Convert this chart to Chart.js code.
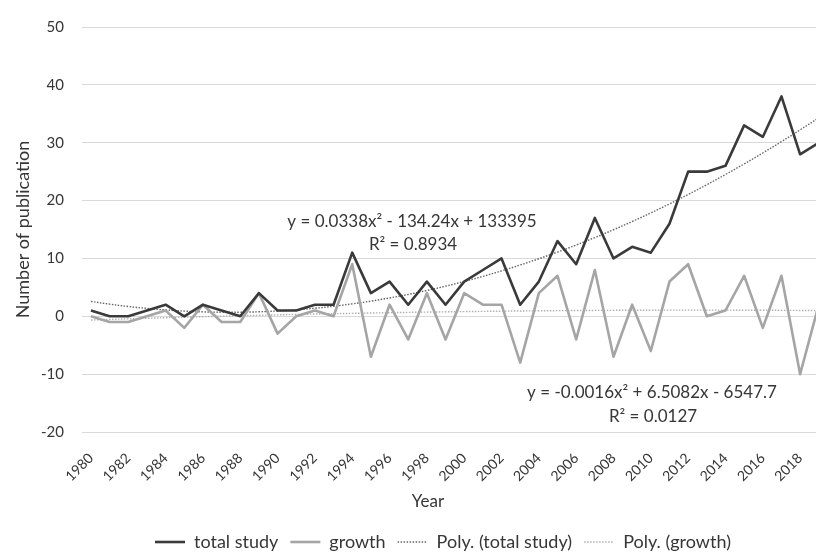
<!DOCTYPE html>
<html>
<head>
<meta charset="utf-8">
<title>Number of publication by year</title>
<script src="https://cdn.jsdelivr.net/npm/chart.js@4/dist/chart.umd.min.js"></script>
<style>
  html, body { margin: 0; padding: 0; background: #ffffff; overflow: hidden; }
  #wrap { width: 822px; height: 559px; position: relative; }
</style>
</head>
<body>
<div id="wrap"><canvas id="chart"></canvas></div>
<script>
// Publication years
const years = [
  1980, 1981, 1982, 1983, 1984, 1985, 1986, 1987, 1988, 1989,
  1990, 1991, 1992, 1993, 1994, 1995, 1996, 1997, 1998, 1999,
  2000, 2001, 2002, 2003, 2004, 2005, 2006, 2007, 2008, 2009,
  2010, 2011, 2012, 2013, 2014, 2015, 2016, 2017, 2018, 2019
];

// Publications per year
const totalStudy = [
  1, 0, 0, 1, 2, 0, 2, 1, 0, 4,
  1, 1, 2, 2, 11, 4, 6, 2, 6, 2,
  6, 8, 10, 2, 6, 13, 9, 17, 10, 12,
  11, 16, 25, 25, 26, 33, 31, 38, 28, 30
];

// Year-on-year change
const growth = [
  0, -1, -1, 0, 1, -2, 2, -1, -1, 4,
  -3, 0, 1, 0, 9, -7, 2, -4, 4, -4,
  4, 2, 2, -8, 4, 7, -4, 8, -7, 2,
  -6, 6, 9, 0, 1, 7, -2, 7, -10, 2
];

// Labelled years on the horizontal axis
const xTickYears = [
  1980, 1982, 1984, 1986, 1988, 1990, 1992, 1994, 1996, 1998,
  2000, 2002, 2004, 2006, 2008, 2010, 2012, 2014, 2016, 2018
];

// Trendline equations as printed on the chart
const trendTotalLines = ['y = 0.0338x² - 134.24x + 133395', 'R² = 0.8934'];
const trendGrowthLines = ['y = -0.0016x² + 6.5082x - 6547.7', 'R² = 0.0127'];

const seriesNames = ['total study', 'growth', 'Poly. (total study)', 'Poly. (growth)'];

// Least-squares second order polynomial fit, evaluated at each year
function quadraticFit(xs, ys) {
  const x0 = 2000;
  let s = [0, 0, 0, 0, 0], t = [0, 0, 0];
  xs.forEach((xv, i) => {
    const u = xv - x0;
    let p = 1;
    for (let k = 0; k < 5; k++) { s[k] += p; p *= u; }
    t[0] += ys[i]; t[1] += ys[i] * u; t[2] += ys[i] * u * u;
  });
  const m = [
    [s[0], s[1], s[2], t[0]],
    [s[1], s[2], s[3], t[1]],
    [s[2], s[3], s[4], t[2]]
  ];
  for (let c = 0; c < 3; c++) {
    for (let r = c + 1; r < 3; r++) {
      const f = m[r][c] / m[c][c];
      for (let k = c; k < 4; k++) m[r][k] -= f * m[c][k];
    }
  }
  const coef = [0, 0, 0];
  for (let r = 2; r >= 0; r--) {
    let v = m[r][3];
    for (let k = r + 1; k < 3; k++) v -= m[r][k] * coef[k];
    coef[r] = v / m[r][r];
  }
  return xs.map(xv => {
    const u = xv - x0;
    return coef[0] + coef[1] * u + coef[2] * u * u;
  });
}

const totalTrend = quadraticFit(years, totalStudy);
const growthTrend = quadraticFit(years, growth);

const pts = (ys) => years.map((x, i) => ({ x: x, y: ys[i] }));

const FONT = 'Lato, "Open Sans", sans-serif';
const TEXT = '#363636';
const PLOT_BOTTOM = 432;

// Equation captions and the "Year" axis caption
const captions = {
  id: 'captions',
  afterDraw(chart) {
    const ctx = chart.ctx;
    ctx.save();
    ctx.fillStyle = TEXT;
    ctx.textAlign = 'center';
    ctx.textBaseline = 'middle';
    ctx.font = '17px ' + FONT;
    ctx.fillText(trendTotalLines[0], 412, 222);
    ctx.fillText(trendTotalLines[1], 413, 245);
    ctx.fillText(trendGrowthLines[0], 652, 393);
    ctx.fillText(trendGrowthLines[1], 653, 417);
    ctx.fillText('Year', 428, 502);
    ctx.restore();
  }
};

// Legend row sits slightly right of centre and low in the frame
const legendPlacement = {
  id: 'legendPlacement',
  afterLayout(chart) {
    const lg = chart.legend;
    if (!lg) return;
    lg.left += 32; lg.right += 32;
    const h = lg.height;
    lg.top = 521; lg.bottom = 521 + h;
  }
};

new Chart(document.getElementById('chart'), {
  type: 'line',
  data: {
    datasets: [
      {
        label: seriesNames[0],
        data: pts(totalStudy),
        borderColor: '#3a3a3a',
        borderWidth: 2.6,
        pointRadius: 0,
        borderJoinStyle: 'round',
        tension: 0
      },
      {
        label: seriesNames[1],
        data: pts(growth),
        borderColor: '#a5a5a5',
        borderWidth: 2.6,
        pointRadius: 0,
        borderJoinStyle: 'round',
        tension: 0
      },
      {
        label: seriesNames[2],
        data: pts(totalTrend),
        borderColor: '#666666',
        borderWidth: 1.4,
        borderDash: [1.5, 1.5],
        pointRadius: 0,
        tension: 0.4
      },
      {
        label: seriesNames[3],
        data: pts(growthTrend),
        borderColor: '#b0b0b0',
        borderWidth: 1.4,
        borderDash: [1.5, 1.5],
        pointRadius: 0,
        tension: 0.4
      }
    ]
  },
  options: {
    responsive: true,
    maintainAspectRatio: false,
    animation: false,
    events: [],
    layout: { padding: { top: 18, right: 0, bottom: 0, left: 0 } },
    scales: {
      x: {
        type: 'linear',
        min: 1979.52,
        max: 2018.85,
        afterBuildTicks(scale) {
          scale.ticks = xTickYears.map(v => ({ value: v }));
        },
        afterFit(scale) {
          const lg = scale.chart.legend;
          scale.height = 559 - PLOT_BOTTOM - (lg ? lg.height : 0);
        },
        grid: { display: false },
        border: { display: false },
        ticks: {
          autoSkip: false,
          minRotation: 45,
          maxRotation: 45,
          padding: 10,
          color: TEXT,
          font: { family: FONT, size: 14 },
          callback: v => String(v)
        }
      },
      y: {
        min: -20,
        max: 50,
        afterFit(scale) { scale.width = 82; },
        grid: { color: '#d9d9d9', lineWidth: 1, drawTicks: false },
        border: { display: false },
        ticks: {
          stepSize: 10,
          padding: 18,
          color: TEXT,
          font: { family: FONT, size: 15 }
        },
        title: {
          display: true,
          text: 'Number of publication',
          color: TEXT,
          font: { family: FONT, size: 18 },
          padding: { top: 12, bottom: 0 }
        }
      }
    },
    plugins: {
      tooltip: { enabled: false },
      legend: {
        position: 'bottom',
        labels: {
          usePointStyle: true,
          pointStyleWidth: 30,
          padding: 12,
          color: TEXT,
          font: { family: FONT, size: 18 },
          generateLabels(chart) {
            return chart.data.datasets.map((ds, i) => ({
              text: ds.label,
              fillStyle: ds.borderColor,
              strokeStyle: ds.borderColor,
              lineWidth: ds.borderWidth,
              lineDash: ds.borderDash || [],
              pointStyle: 'line',
              fontColor: TEXT,
              hidden: false,
              datasetIndex: i
            }));
          }
        }
      }
    }
  },
  plugins: [captions, legendPlacement]
});
</script>
</body>
</html>
